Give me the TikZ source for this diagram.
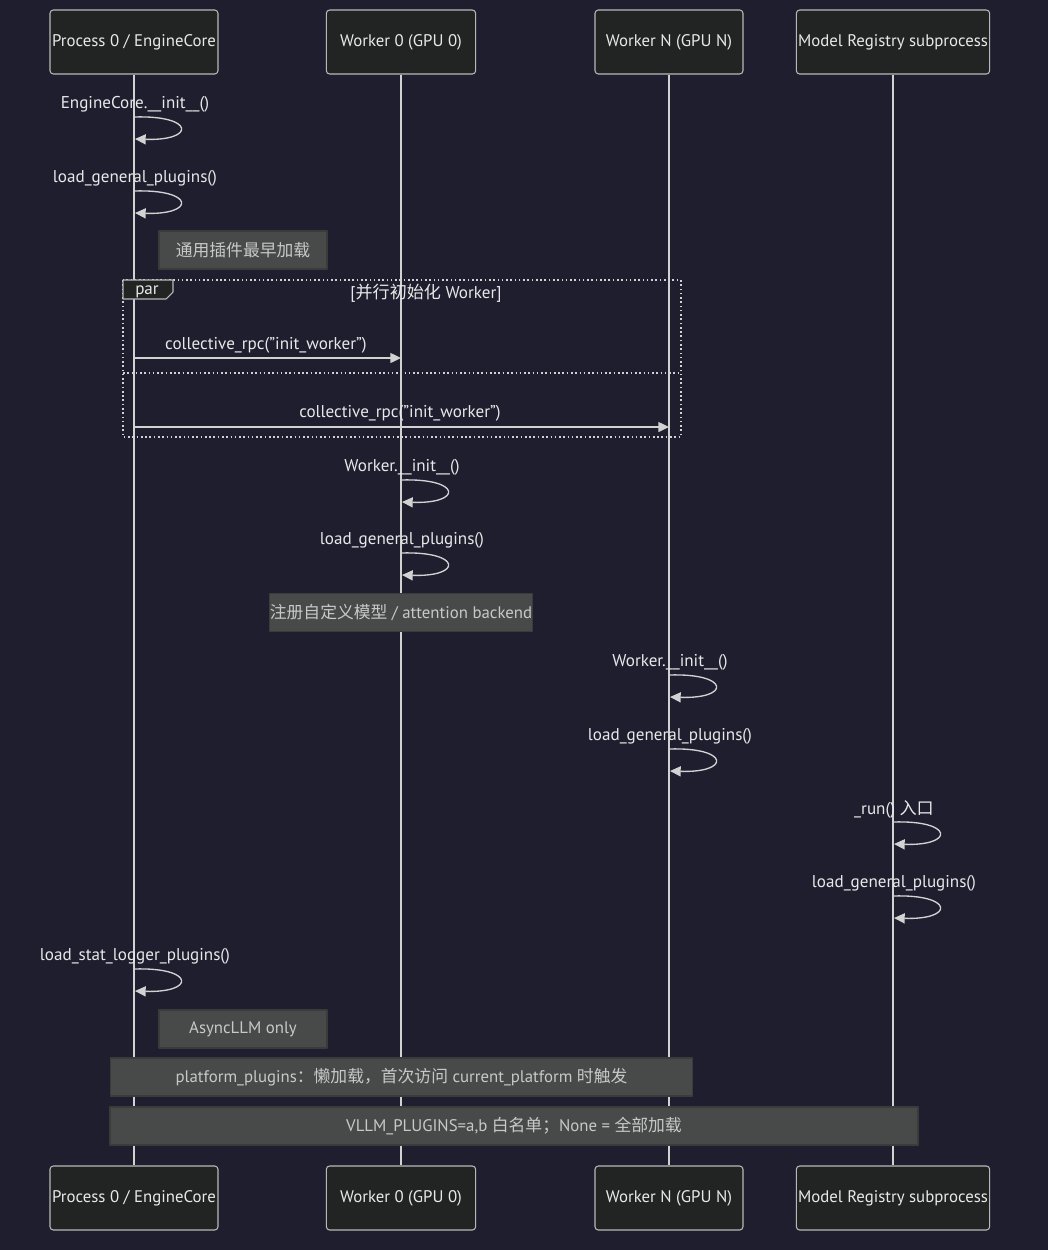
\documentclass[tikz,border=0pt]{standalone}
\usepackage{fontspec}
\setmainfont{PT Sans}
\newfontfamily\cjk{Noto Sans CJK SC}
\usetikzlibrary{arrows.meta}
\definecolor{bg}{HTML}{1F1E2F}
\definecolor{actorfill}{HTML}{222424}
\definecolor{actorline}{HTML}{B8B8B8}
\definecolor{notefill}{HTML}{484A4A}
\definecolor{noteline}{HTML}{3A3C3C}
\definecolor{txt}{HTML}{E8E8E8}
\definecolor{notetxt}{HTML}{C8C8C8}
\definecolor{wire}{HTML}{D2D2D2}
\tikzset{
  actor/.style={draw=actorline,fill=actorfill,rounded corners=2.5pt,text=txt,
    minimum height=48pt,inner sep=0pt,line width=0.8pt,font=\fontsize{12.6}{14}\selectfont},
  note/.style={draw=noteline,fill=notefill,text=notetxt,minimum height=28.5pt,
    inner sep=0pt,line width=0.8pt,font=\fontsize{12.6}{14}\selectfont},
  msg/.style={text=txt,inner sep=0pt,font=\fontsize{12.8}{14}\selectfont},
  wire/.style={draw=wire,line width=1pt},
  frame/.style={draw=wire,line width=1.2pt,dotted}
}
\begin{document}
\begin{tikzpicture}[x=0.75pt,y=-0.75pt,>={Triangle[length=8pt,width=7.5pt]},line join=round]
  \fill[bg] (0,0) rectangle (1048,1250);
  \useasboundingbox (0,0) rectangle (1048,1250);
  % participants, top and bottom
  \foreach \nm/\cx/\w/\txt in {pe/134/126/{Process 0 / EngineCore},
      wz/401/112/{Worker 0 (GPU 0)},wn/669/111/{Worker N (GPU N)},
      mr/893/145/{Model Registry subprocess}}{
    \node[actor,minimum width=\w pt] (\nm top) at (\cx,42) {\txt};
    \node[actor,minimum width=\w pt] (\nm bot) at (\cx,1198) {\txt};
    \draw[wire] (\nm top) -- (\nm bot);
  }
  % par block
  \draw[frame] (123,280) rectangle (681,437);
  \draw[frame] (123,373) -- (681,373);
  \draw[draw=actorline,fill=actorfill,line width=0.8pt]
    (123,280) -- (173,280) -- (173,292) -- (166,299) -- (123,299) -- cycle;
  \node[msg] (parlbl) at (147,292) {par};
  \node[msg] (partitle) at (426,293) {[{\cjk 并行初始化} Worker]};
  % messages
  \coordinate (rpc1s) at (134,358); \coordinate (rpc1e) at (401,358);
  \coordinate (rpc2s) at (134,427); \coordinate (rpc2e) at (669,427);
  \node[msg] (rpc1) at (266,345) {collective\_rpc("init\_worker")};
  \node[msg] (rpc2) at (400,413) {collective\_rpc("init\_worker")};
  \draw[wire,->] (rpc1s) -- (rpc1e);
  \draw[wire,->] (rpc2s) -- (rpc2e);
  % self calls
  \foreach \nm/\lx/\ly/\txt in {ecinit/134/103/{EngineCore.\_\_init\_\_()},
      ecgen/134/177/{load\_general\_plugins()},
      wzinit/401/466/{Worker.\_\_init\_\_()},
      wzgen/401/539/{load\_general\_plugins()},
      wninit/669/661/{Worker.\_\_init\_\_()},
      wngen/669/735/{load\_general\_plugins()},
      mrrun/893/808/{\_run() {\cjk 入口}},
      mrgen/893/882/{load\_general\_plugins()},
      ecstat/134/955/{load\_stat\_logger\_plugins()}}{
    \node[msg] (\nm) at (\lx+1,\ly+1.5) {\txt};
    \coordinate (\nm s) at (\lx,\ly+14);
    \coordinate (\nm e) at (\lx+1,\ly+36);
    \draw[wire,->] (\nm s) .. controls +(61,-2) and +(61,2) .. (\nm e);
  }
  % notes
  \node[note,minimum width=126pt] (n1) at (243,250) {\cjk 通用插件最早加载};
  \node[note,minimum width=192pt] (n2) at (401,612.5)
    {{\cjk 注册自定义模型} / attention backend};
  \node[note,minimum width=126pt] (n3) at (243,1029) {AsyncLLM only};
  \node[note,minimum width=437pt] (n4) at (401.5,1077)
    {platform\_plugins{\cjk ：懒加载，首次访问} current\_platform {\cjk 时触发}};
  \node[note,minimum width=606pt] (n5) at (514,1126)
    {VLLM\_PLUGINS=a,b {\cjk 白名单；}None = {\cjk 全部加载}};
\end{tikzpicture}
\end{document}
